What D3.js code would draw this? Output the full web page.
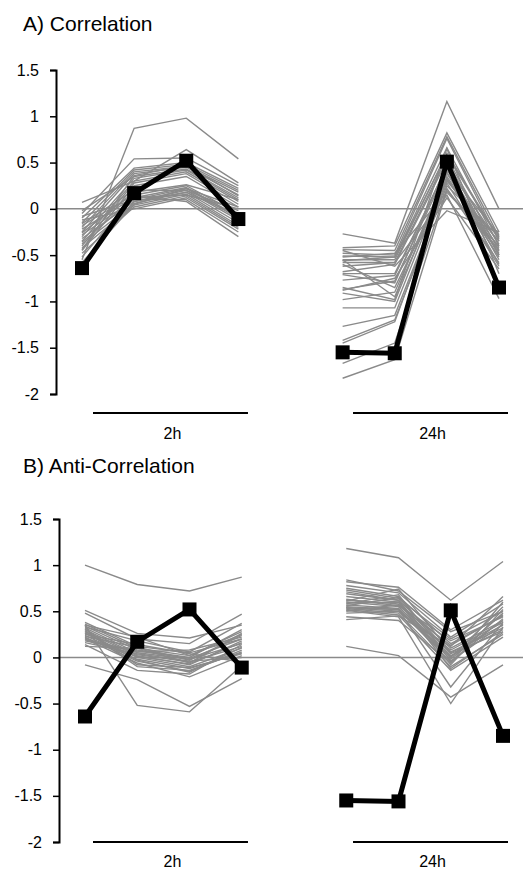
<!DOCTYPE html>
<html><head><meta charset="utf-8">
<script src="https://cdn.jsdelivr.net/npm/d3@7"></script>
<style>
body{margin:0;background:#fff}
svg{display:block}
text{font-family:"Liberation Sans",Arial,Helvetica,sans-serif;fill:#000}
</style>
</head><body>
<script>
// ---- data ----
const slots = [0, 1, 2, 3, 5, 6, 7, 8];          // x slot of each of the 8 measurements
const groups = ["2h", "24h"];                      // time-point groups (4 measurements each)
const yTicks = [-2, -1.5, -1, -0.5, 0, 0.5, 1, 1.5];
const panelTitles = ["A) Correlation", "B) Anti-Correlation"];

const referenceProfile = [-0.64, 0.17, 0.52, -0.11, -1.55, -1.56, 0.51, -0.85];

const correlatedProfiles = [
  [-0.55, 0.87, 0.98, 0.54, -0.27, -0.37, 1.16, 0.00],
  [ 0.07, 0.30, 0.64, 0.28, -0.42, -0.40, 0.82, -0.25],
  [-0.05, 0.54, 0.55, 0.25, -0.44, -0.45, 0.78, -0.30],
  [-0.10, 0.44, 0.50, 0.22, -0.48, -0.50, 0.76, -0.35],
  [-0.15, 0.42, 0.48, 0.20, -0.51, -0.52, 0.66, -0.40],
  [-0.20, 0.40, 0.46, 0.18, -0.55, -0.55, 0.60, -0.32],
  [-0.25, 0.38, 0.45, 0.15, -0.58, -0.58, 0.55, -0.45],
  [-0.02, 0.35, 0.43, 0.12, -0.68, -0.60, 0.52, -0.50],
  [-0.30, 0.33, 0.42, 0.10, -0.71, -0.80, 0.48, -0.38],
  [-0.35, 0.30, 0.40, 0.08, -0.77, -0.72, 0.45, -0.55],
  [-0.40, 0.28, 0.38, 0.05, -0.87, -0.78, 0.42, -0.28],
  [-0.45, 0.25, 0.35, 0.02, -0.91, -1.00, 0.40, -0.60],
  [-0.18, 0.15, 0.25, -0.05, -0.98, -0.90, 0.38, -0.42],
  [-0.22, 0.12, 0.23, -0.08, -1.07, -1.07, 0.35, -0.48],
  [-0.28, 0.10, 0.22, -0.10, -0.55, -0.95, 0.33, -0.52],
  [-0.32, 0.08, 0.20, -0.12, -0.60, -0.85, 0.30, -0.35],
  [-0.38, 0.06, 0.18, -0.15, -1.27, -1.15, 0.28, -0.62],
  [-0.42, 0.04, 0.16, -0.18, -1.42, -1.20, 0.25, -0.30],
  [-0.48, 0.02, 0.14, -0.20, -1.67, -1.45, 0.22, -0.58],
  [-0.12, 0.00, 0.12, -0.22, -1.83, -1.63, 0.20, -0.44],
  [-0.08, 0.10, 0.10, -0.25, -0.52, -0.48, 0.18, -0.40],
  [-0.52, 0.14, 0.08, -0.30, -0.62, -0.58, 0.15, -0.97],
  [-0.58, 0.05, 0.22, 0.02, -0.88, -0.75, 0.12, -0.65],
  [-0.26, 0.18, 0.26, 0.10, -0.45, -0.62, -0.02, -0.25],
  [-0.16, 0.20, 0.20, -0.02, -0.70, -0.70, 0.45, -0.50],
  [-0.36, 0.12, 0.15, 0.00, -0.56, -0.52, 0.58, -0.33],
  [-0.44, 0.36, 0.47, 0.14, -0.85, -0.98, 0.65, -0.70],
  [-0.60, 0.08, 0.18, -0.07, -1.45, -1.22, 0.32, -0.46]
];

const antiCorrelatedProfiles = [
  [ 1.00, 0.79, 0.72, 0.87, 1.18, 1.08, 0.62, 1.04],
  [ 0.51, 0.26, 0.21, 0.35, 0.12, 0.02, -0.43, -0.08],
  [ 0.48, 0.20, 0.15, 0.47, 0.84, 0.72, 0.28, 0.50],
  [-0.08, -0.24, -0.53, -0.23, 0.82, 0.76, 0.30, 0.62],
  [ 0.35, -0.52, -0.59, -0.09, 0.78, 0.70, 0.22, 0.58],
  [ 0.38, 0.12, 0.05, 0.20, 0.75, 0.66, 0.15, 0.45],
  [ 0.36, 0.10, 0.02, 0.25, 0.71, 0.62, 0.10, 0.40],
  [ 0.34, 0.08, 0.00, 0.30, 0.66, 0.60, 0.05, 0.35],
  [ 0.32, 0.05, -0.02, 0.15, 0.62, 0.58, 0.02, 0.30],
  [ 0.30, 0.03, -0.05, 0.12, 0.60, 0.55, 0.00, 0.55],
  [ 0.28, 0.02, -0.08, 0.18, 0.57, 0.53, -0.02, 0.48],
  [ 0.26, 0.00, -0.10, 0.10, 0.55, 0.52, -0.05, 0.42],
  [ 0.24, -0.02, -0.12, 0.05, 0.54, 0.50, 0.08, 0.38],
  [ 0.22, -0.04, -0.15, 0.08, 0.53, 0.48, -0.10, 0.25],
  [ 0.20, -0.06, -0.21, 0.02, 0.52, 0.46, -0.14, 0.22],
  [ 0.18, 0.06, 0.08, 0.22, 0.51, 0.44, -0.50, 0.33],
  [ 0.16, 0.04, -0.04, 0.00, 0.44, 0.40, -0.06, 0.60],
  [ 0.14, -0.14, -0.18, 0.14, 0.41, 0.45, 0.12, 0.66],
  [ 0.12, 0.10, -0.06, 0.26, 0.56, 0.65, 0.04, 0.28],
  [ 0.25, 0.14, 0.04, -0.05, 0.58, 0.68, -0.04, 0.36],
  [ 0.33, 0.18, 0.06, 0.37, 0.50, 0.57, 0.18, 0.44],
  [ 0.29, -0.10, -0.14, 0.06, 0.61, 0.74, 0.06, 0.32],
  [ 0.21, 0.01, -0.07, 0.16, 0.69, 0.62, -0.08, 0.52],
  [ 0.35, 0.22, 0.02, 0.28, 0.48, 0.50, 0.01, 0.40],
  [ 0.27, -0.03, -0.16, 0.11, 0.63, 0.56, 0.13, 0.46],
  [ 0.19, 0.07, -0.01, 0.20, 0.59, 0.60, -0.12, 0.27],
  [ 0.31, -0.08, -0.11, 0.04, 0.73, 0.64, 0.20, 0.50],
  [ 0.23, 0.11, -0.03, 0.24, 0.54, 0.52, -0.32, 0.38]
];

// ---- layout ----
const W = 531, H = 869;
const panels = [
  {title: panelTitles[0], profiles: correlatedProfiles, titleY: 31, top: 70, bottom: 394,
   axisX: 56, xr: [82, 499], right: 523, bracketY: 413, labelY: 439},
  {title: panelTitles[1], profiles: antiCorrelatedProfiles, titleY: 473, top: 519, bottom: 842,
   axisX: 59, xr: [85, 503], right: 523, bracketY: 842, labelY: 867}
];

const svg = d3.select("body").append("svg").attr("width", W).attr("height", H);
const GREY = "#8a8a8a";

panels.forEach(p => {
  const g = svg.append("g");
  const y = d3.scaleLinear().domain([-2, 1.5]).range([p.bottom, p.top]);
  const x = d3.scaleLinear().domain([0, 8]).range(p.xr);
  const gx = d3.scaleBand().domain(groups).range([93, 508]).paddingInner(0.404).paddingOuter(0);

  g.append("text").attr("x", 23).attr("y", p.titleY)
    .style("font-size", "21px").text(p.title);

  // zero line
  g.append("line")
    .attr("x1", p.axisX).attr("x2", p.right)
    .attr("y1", y(0)).attr("y2", y(0))
    .attr("stroke", GREY).attr("stroke-width", 1.5);

  const line = d3.line().x(d => x(d.s)).y(d => y(d.v));
  const segs = prof => groups.map((_, gi) =>
    prof.slice(gi * 4, gi * 4 + 4).map((v, k) => ({s: slots[gi * 4 + k], v})));

  // grey profiles
  p.profiles.forEach(prof => {
    segs(prof).forEach(seg => {
      g.append("path").attr("d", line(seg)).attr("fill", "none")
        .attr("stroke", GREY).attr("stroke-width", 1.4).attr("stroke-linejoin", "miter");
    });
  });

  // reference profile
  segs(referenceProfile).forEach(seg => {
    g.append("path").attr("d", line(seg)).attr("fill", "none")
      .attr("stroke", "#000").attr("stroke-width", 5).attr("stroke-linejoin", "miter");
  });
  const ms = 14;
  g.selectAll("rect.mk").data(referenceProfile).join("rect").attr("class", "mk")
    .attr("x", (v, i) => x(slots[i]) - ms / 2).attr("y", v => y(v) - ms / 2)
    .attr("width", ms).attr("height", ms).attr("fill", "#000");

  // y axis
  const ax = g.append("g").attr("transform", `translate(${p.axisX},0)`)
    .call(d3.axisLeft(y).tickValues(yTicks).tickSize(6).tickPadding(11).tickFormat(d => String(d)));
  ax.select(".domain").attr("stroke", "#000").attr("stroke-width", 2);
  ax.selectAll(".tick line").attr("stroke", "#000").attr("stroke-width", 1.5);
  ax.selectAll(".tick text").style("font-size", "16px")
    .style("font-family", '"Liberation Sans",Arial,sans-serif').attr("fill", "#000");

  // group brackets + labels
  groups.forEach(gr => {
    g.append("line").attr("x1", gx(gr)).attr("x2", gx(gr) + gx.bandwidth())
      .attr("y1", p.bracketY).attr("y2", p.bracketY)
      .attr("stroke", "#000").attr("stroke-width", 2);
    g.append("text").attr("x", gx(gr) + gx.bandwidth() / 2 + 2).attr("y", p.labelY)
      .attr("text-anchor", "middle").style("font-size", "16px").text(gr);
  });
});
</script>
</body></html>
